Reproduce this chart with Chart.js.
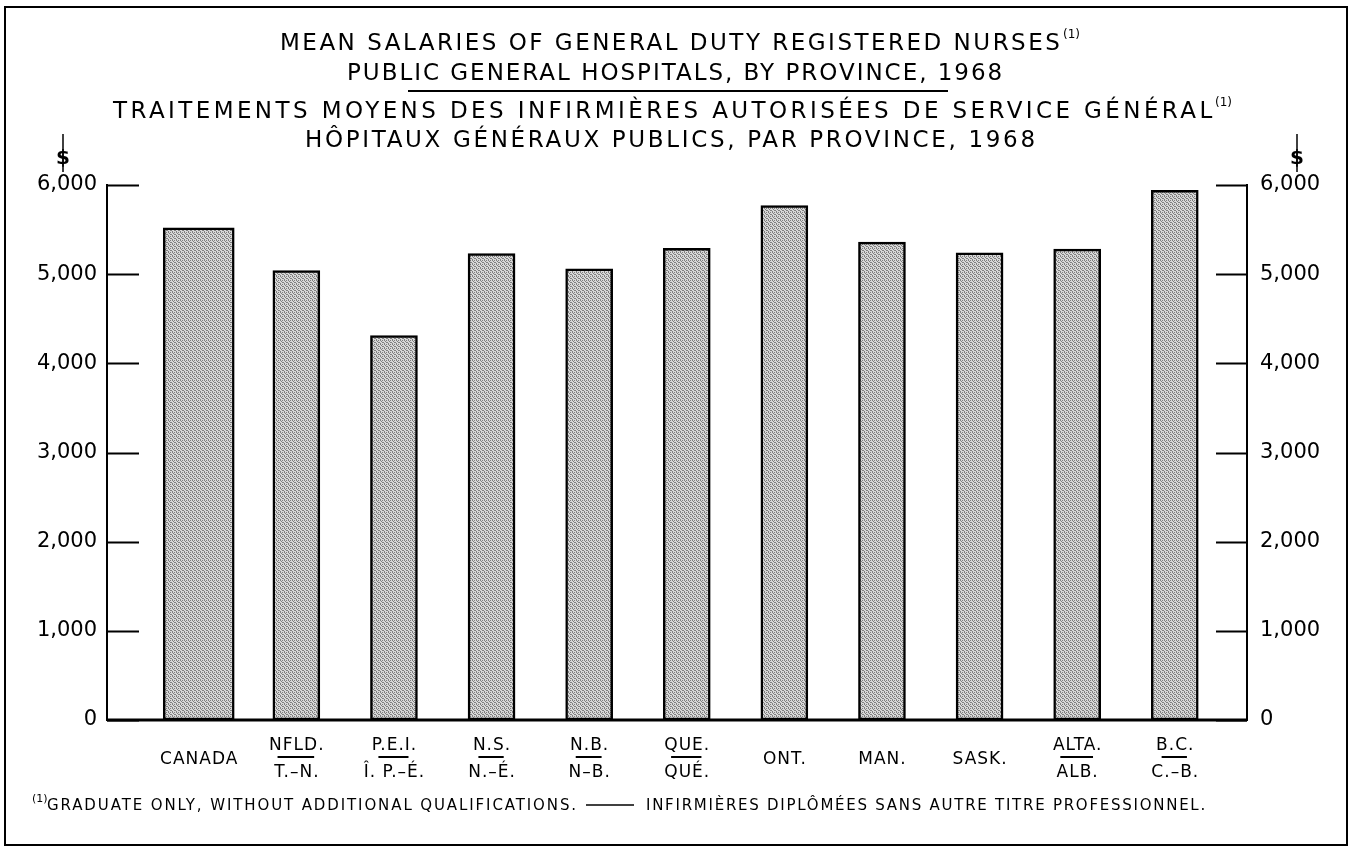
<!DOCTYPE html>
<html lang="en">
<head>
<meta charset="UTF-8">
<title>Mean salaries of general duty registered nurses, 1968</title>
<script src="https://cdn.jsdelivr.net/npm/chart.js"></script>
<style>
  html, body { margin: 0; padding: 0; background: #fff; }
  canvas { display: block; }
</style>
</head>
<body>
<canvas id="chart" width="1353" height="854"></canvas>
<script>
// ---- data ----
const provTop = ['CANADA', 'NFLD.', 'P.E.I.', 'N.S.', 'N.B.', 'QUE.', 'ONT.', 'MAN.', 'SASK.', 'ALTA.', 'B.C.'];
const provBottom = ['', 'T.–N.', 'Î. P.–É.', 'N.–É.', 'N–B.', 'QUÉ.', '', '', '', 'ALB.', 'C.–B.'];
const salaries = [5520, 5040, 4310, 5230, 5060, 5290, 5770, 5360, 5240, 5280, 5940];
const yTicks = [0, 1000, 2000, 3000, 4000, 5000, 6000];

const titleLines = [
    { text: 'MEAN SALARIES OF GENERAL DUTY REGISTERED NURSES', x0: 280, x1: 1060, y: 50, note: true },
    { text: 'PUBLIC GENERAL HOSPITALS, BY PROVINCE, 1968', x0: 347, x1: 1002, y: 80 },
    { text: 'TRAITEMENTS MOYENS DES INFIRMIÈRES AUTORISÉES DE SERVICE GÉNÉRAL', x0: 113, x1: 1212, y: 118, note: true },
    { text: 'HÔPITAUX GÉNÉRAUX PUBLICS, PAR PROVINCE, 1968', x0: 305, x1: 1035, y: 147 }
];
const footEn = 'GRADUATE ONLY, WITHOUT ADDITIONAL QUALIFICATIONS.';
const footFr = 'INFIRMIÈRES DIPLÔMÉES SANS AUTRE TITRE PROFESSIONNEL.';

const FONT = '"DejaVu Sans", "Liberation Sans", sans-serif';

// stippled grey like the printed screen
function stipple() {
    const c = document.createElement('canvas');
    c.width = 4; c.height = 4;
    const g = c.getContext('2d');
    g.fillStyle = '#d8d8d8';
    g.fillRect(0, 0, 4, 4);
    g.fillStyle = '#808080';
    [[0, 0], [2, 0], [1, 1], [3, 2], [0, 3], [2, 2]].forEach(p => g.fillRect(p[0], p[1], 1, 1));
    return g.createPattern(c, 'repeat');
}

// draw text stretched between x0 and x1 with letter spacing
function spacedText(ctx, text, x0, x1, y) {
    ctx.letterSpacing = '0px';
    const n = Array.from(text).length;
    const w = ctx.measureText(text).width;
    const sp = n > 1 ? (x1 - x0 - w) / (n - 1) : 0;
    ctx.letterSpacing = sp.toFixed(2) + 'px';
    ctx.textAlign = 'left';
    ctx.fillText(text, x0, y);
    ctx.letterSpacing = '0px';
}

const decor = {
    id: 'decor',
    beforeDraw(chart) {
        const ctx = chart.ctx;
        ctx.save();
        ctx.fillStyle = '#fff';
        ctx.fillRect(0, 0, chart.width, chart.height);
        ctx.restore();
    },
    afterDraw(chart) {
        const ctx = chart.ctx;
        const xs = chart.scales.x, yl = chart.scales.y;
        const area = chart.chartArea;
        ctx.save();
        ctx.strokeStyle = '#000';
        ctx.fillStyle = '#000';
        ctx.textBaseline = 'alphabetic';

        // frame
        ctx.lineWidth = 2;
        ctx.strokeRect(5, 7, 1342, 838);

        // inward tick marks on both axes
        ctx.lineWidth = 2;
        yTicks.forEach(v => {
            const y = Math.round(yl.getPixelForValue(v)) + 0.5;
            ctx.beginPath();
            ctx.moveTo(area.left, y); ctx.lineTo(area.left + 32, y);
            ctx.moveTo(area.right - 31, y); ctx.lineTo(area.right, y);
            ctx.stroke();
        });

        // base line
        const y0 = yl.getPixelForValue(0);
        ctx.lineWidth = 3;
        ctx.beginPath();
        ctx.moveTo(area.left, y0); ctx.lineTo(area.right, y0);
        ctx.stroke();

        // dollar signs above the axes
        ctx.font = 'bold 20px ' + FONT;
        ctx.textAlign = 'center';
        [63, 1297].forEach(x => {
            ctx.fillText('$', x, 164);
            ctx.lineWidth = 1.5;
            ctx.beginPath();
            ctx.moveTo(x, 134); ctx.lineTo(x, 172);
            ctx.stroke();
        });

        // titles
        titleLines.forEach(t => {
            ctx.font = '23px ' + FONT;
            spacedText(ctx, t.text, t.x0, t.x1, t.y);
            if (t.note) {
                ctx.font = '12px ' + FONT;
                ctx.textAlign = 'left';
                ctx.fillText('(1)', t.x1 + 3, t.y - 12);
            }
        });
        ctx.lineWidth = 2;
        ctx.beginPath();
        ctx.moveTo(408, 91); ctx.lineTo(948, 91);
        ctx.stroke();

        // category labels
        ctx.font = '17px ' + FONT;
        ctx.textAlign = 'center';
        ctx.letterSpacing = '1px';
        provTop.forEach((lab, i) => {
            const x = xs.getPixelForValue(i) + 0.5;
            if (provBottom[i]) {
                ctx.fillText(lab, x, 750);
                const w = ctx.measureText(lab).width * 0.66;
                ctx.lineWidth = 2;
                ctx.beginPath();
                ctx.moveTo(x - w / 2 - 1, 757); ctx.lineTo(x + w / 2 - 1, 757);
                ctx.stroke();
                ctx.fillText(provBottom[i], x, 777);
            } else {
                ctx.fillText(lab, x, 764);
            }
        });
        ctx.letterSpacing = '0px';

        // footnote
        const fy = 810;
        ctx.font = '11px ' + FONT;
        ctx.textAlign = 'left';
        ctx.fillText('(1)', 32, fy - 8);
        ctx.font = '15px ' + FONT;
        spacedText(ctx, footEn, 47, 576, fy);
        ctx.lineWidth = 1.5;
        ctx.beginPath();
        ctx.moveTo(586, fy - 5); ctx.lineTo(634, fy - 5);
        ctx.stroke();
        spacedText(ctx, footFr, 646, 1205, fy);

        ctx.restore();
    }
};

const fill = stipple();
const canadaData = [{ x: 0, y: salaries[0] }];
const provData = salaries.slice(1).map((v, i) => ({ x: i + 1, y: v }));

const yAxis = (pos, width, pad) => ({
    position: pos,
    min: 0,
    max: 6000,
    afterBuildTicks: s => { s.ticks = yTicks.map(v => ({ value: v })); },
    afterFit: s => { s.width = width; },
    grid: { display: false, drawTicks: false },
    border: { display: true, color: '#000', width: 2 },
    ticks: {
        padding: pad,
        color: '#000',
        font: { family: FONT, size: 21 },
        callback: v => v.toLocaleString('en-US')
    }
});

new Chart(document.getElementById('chart'), {
    type: 'bar',
    data: {
        datasets: [
            { data: canadaData, barThickness: 71 },
            { data: provData, barThickness: 47 }
        ].map(d => Object.assign(d, {
            backgroundColor: fill,
            borderColor: '#000',
            borderWidth: 2.5,
            borderSkipped: false
        }))
    },
    options: {
        responsive: false,
        animation: false,
        grouped: false,
        layout: { padding: { top: 185, bottom: 134, left: 0, right: 0 } },
        plugins: { legend: { display: false }, tooltip: { enabled: false } },
        scales: {
            x: { type: 'linear', min: -0.94, max: 10.74, offset: false, display: false },
            y: yAxis('left', 107, 10),
            y2: yAxis('right', 106, 13)
        }
    },
    plugins: [decor]
});
</script>
</body>
</html>
